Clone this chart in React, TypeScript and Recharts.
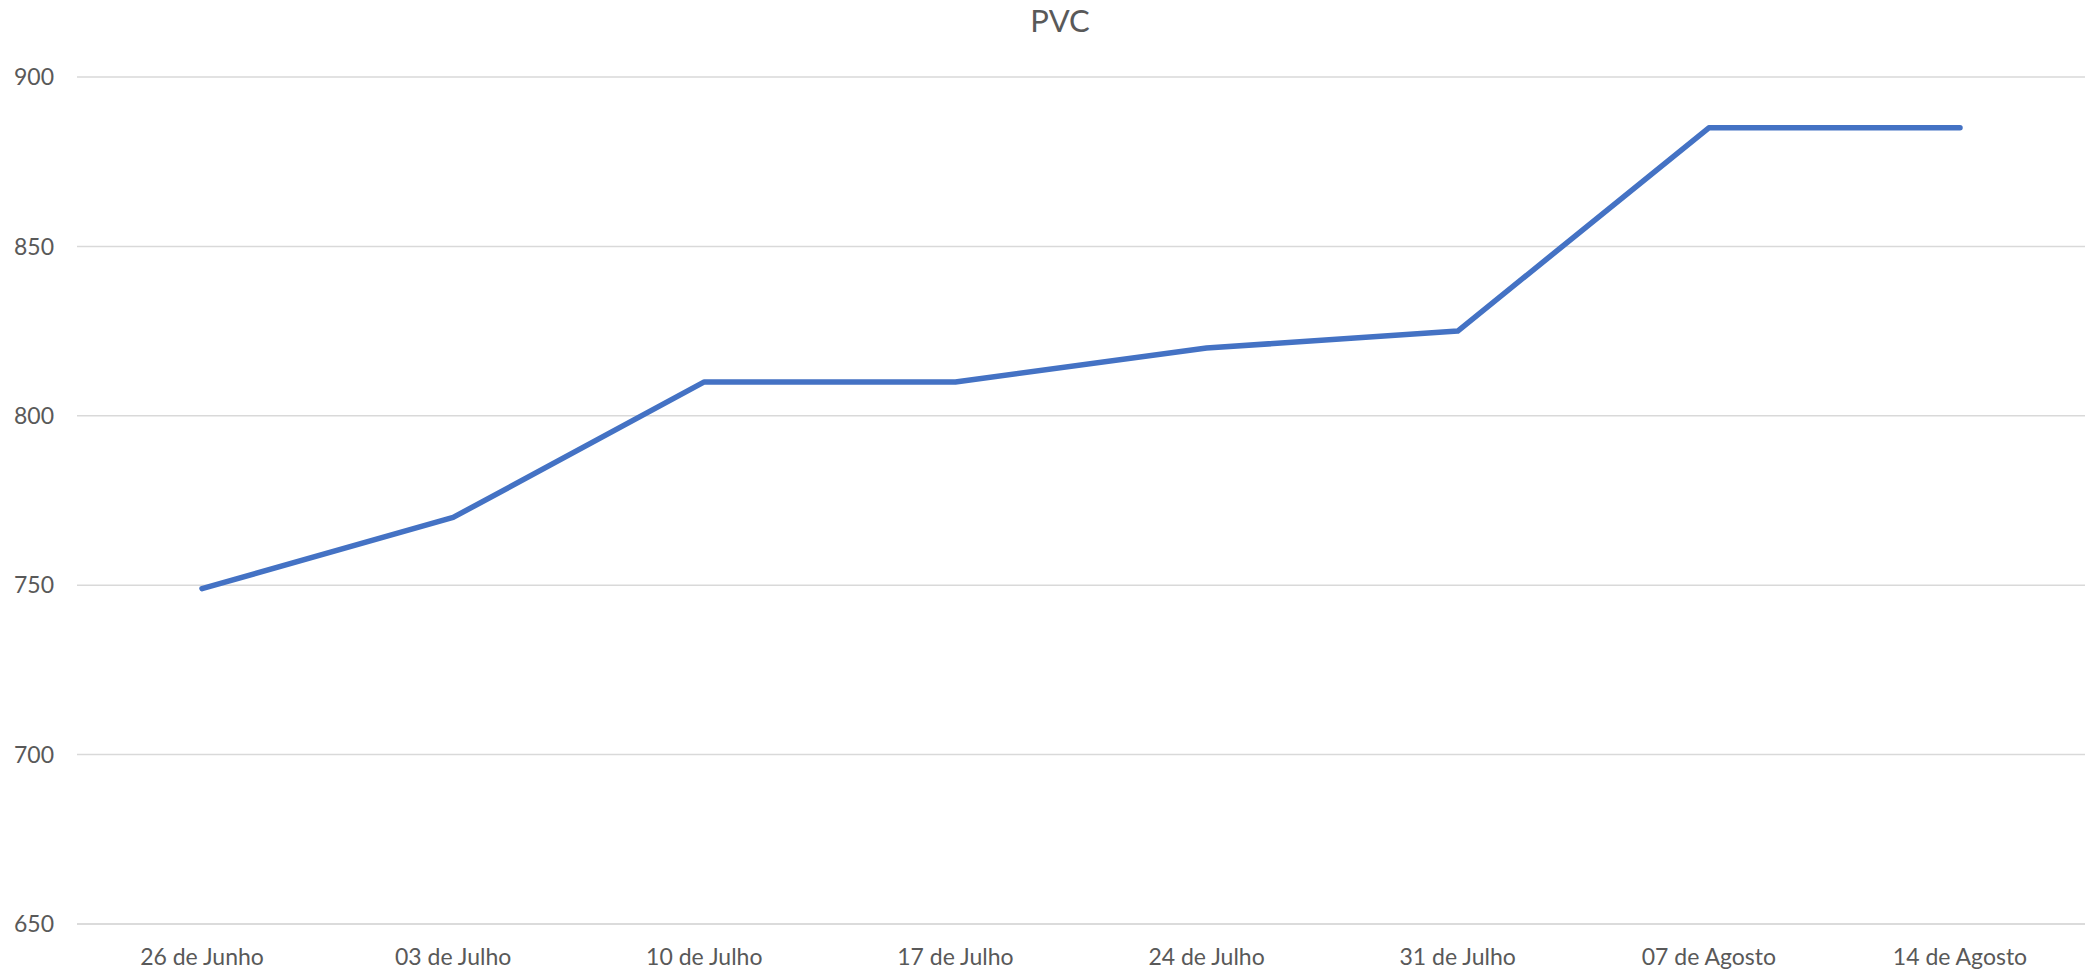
import { LineChart, Line, XAxis, YAxis, CartesianGrid } from 'recharts';

const categories = [
  '26 de Junho',
  '03 de Julho',
  '10 de Julho',
  '17 de Julho',
  '24 de Julho',
  '31 de Julho',
  '07 de Agosto',
  '14 de Agosto',
];
const pvcValues = [749, 770, 810, 810, 820, 825, 885, 885];
const yTicks = [650, 700, 750, 800, 850, 900];

const data = categories.map((week, i) => ({ week, pvc: pvcValues[i] }));

const tickStyle = { fill: '#595959', fontSize: 23, fontFamily: 'Lato, sans-serif' };

export default function App() {
  return (
    <div style={{ position: 'absolute', left: 0, top: 0, width: 2085, height: 970, background: '#fff' }}>
      <div
        style={{
          position: 'absolute',
          left: 960,
          width: 200,
          top: 5,
          textAlign: 'center',
          fontFamily: 'Lato, sans-serif',
          fontSize: 31,
          lineHeight: '31px',
          color: '#595959',
        }}
      >
        PVC
      </div>
      <LineChart width={2085} height={970} data={data} margin={{ top: 77, right: 0, left: 0, bottom: 0 }}>
        <CartesianGrid vertical={false} stroke="#d9d9d9" strokeWidth={1.5} />
        <XAxis
          dataKey="week"
          height={46}
          padding={{ left: 125, right: 125 }}
          axisLine={{ stroke: '#d9d9d9', strokeWidth: 1.5 }}
          tickLine={false}
          tickSize={0}
          tickMargin={25}
          tick={tickStyle}
          interval={0}
        />
        <YAxis
          width={77}
          domain={[650, 900]}
          ticks={yTicks}
          axisLine={false}
          tickLine={false}
          tickSize={0}
          tickMargin={23}
          tick={tickStyle}
        />
        <Line
          type="linear"
          dataKey="pvc"
          stroke="#4472C4"
          strokeWidth={5.5}
          strokeLinecap="round"
          strokeLinejoin="round"
          dot={false}
          activeDot={false}
          isAnimationActive={false}
        />
      </LineChart>
    </div>
  );
}
